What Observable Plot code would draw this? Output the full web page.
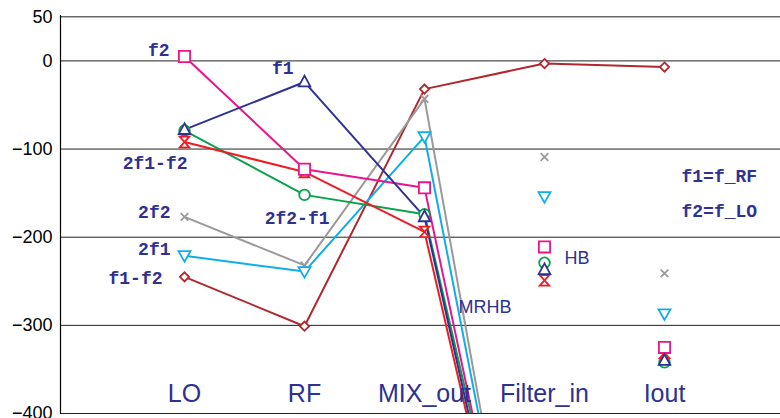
<!DOCTYPE html>
<html><head><meta charset="utf-8">
<script src="https://cdn.jsdelivr.net/npm/d3@7"></script>
<script src="https://cdn.jsdelivr.net/npm/@observablehq/plot@0.6"></script>
<style>body{margin:0;background:#fff;} #chart svg{display:block;}</style>
</head><body><div id="chart"></div>
<script>
// ---- data ----
const categories = ["LO", "RF", "MIX_out", "Filter_in", "Iout"];
const yTicks = [50, 0, -100, -200, -300, -400];

// MRHB line series (values at LO, RF, MIX_out, Filter_in[, Iout]); Filter_in values lie far off-scale
const mrhbF1mF2 = [-245, -301, -32, -3, -7];
const mrhb2F2   = [-177, -232, -43, -798];
const mrhb2F1   = [-221, -239, -86, -785];
const mrhb2F2mF1 = [-79, -152, -174, -760];
const mrhb2F1mF2 = [-92, -126, -194, -783];
const mrhbF2    = [5, -123, -144, -785];
const mrhbF1    = [-78, -24, -177, -785];

// HB point results at Filter_in and Iout
const hbF2     = [-211, -325];
const hbF1     = [-237, -340];
const hb2F1mF2 = [-249, -331];
const hb2F2mF1 = [-229, -342];
const hb2F2    = [-109, -241];
const hb2F1    = [-154, -287];
const hbCategories = ["Filter_in", "Iout"];

// ---- symbols ----
const R = (size) => Math.sqrt(size / Math.PI);
const symSquare = {draw(c, s){const r = R(s); c.rect(-r, -r, 2*r, 2*r);}};
const symTriUp = {draw(c, s){const r = R(s); c.moveTo(0, -r*1.1); c.lineTo(r, r*0.75); c.lineTo(-r, r*0.75); c.closePath();}};
const symTriDown = {draw(c, s){const r = R(s); c.moveTo(0, r*1.0); c.lineTo(r, -r*0.75); c.lineTo(-r, -r*0.75); c.closePath();}};
const symHourglass = {draw(c, s){const r = R(s); c.moveTo(-r*0.9, -r); c.lineTo(r*0.9, -r); c.lineTo(-r*0.9, r); c.lineTo(r*0.9, r); c.closePath();}};
const symCircle = {draw(c, s){const r = R(s); c.moveTo(r, 0); c.arc(0, 0, r, 0, 2*Math.PI);}};
const symTimes = {draw(c, s){const r = R(s); c.moveTo(-r, -r); c.lineTo(r, r); c.moveTo(r, -r); c.lineTo(-r, r);}};
const symDiamond = {draw(c, s){const r = R(s); c.moveTo(0, -r); c.lineTo(r, 0); c.lineTo(0, r); c.lineTo(-r, 0); c.closePath();}};

const series = [
  {name: "f1-f2",  mrhb: mrhbF1mF2,  hb: null,      color: "#b0282e", symbol: symDiamond,   r: 4.6},
  {name: "2f2",    mrhb: mrhb2F2,    hb: hb2F2,     color: "#9a9a9a", symbol: symTimes,     r: 3.8},
  {name: "2f1",    mrhb: mrhb2F1,    hb: hb2F1,     color: "#10aee8", symbol: symTriDown,   r: 6},
  {name: "2f2-f1", mrhb: mrhb2F2mF1, hb: hb2F2mF1,  color: "#0aa14e", symbol: symCircle,    r: 5.3},
  {name: "2f1-f2", mrhb: mrhb2F1mF2, hb: hb2F1mF2,  color: "#ee1d24", symbol: symHourglass, r: 5.3},
  {name: "f2",     mrhb: mrhbF2,     hb: hbF2,      color: "#ea148c", symbol: symSquare,    r: 5.6},
  {name: "f1",     mrhb: mrhbF1,     hb: hbF1,      color: "#2e3192", symbol: symTriUp,     r: 5.8}
];

const navy = "#2e3192";
const annotations = [
  {text: "f2",     cat: "LO", value: 12,   dx: -15, anchor: "end", mono: true},
  {text: "2f1-f2", cat: "LO", value: -116, dx: 3,   anchor: "end", mono: true},
  {text: "2f2",    cat: "LO", value: -172, dx: -14, anchor: "end", mono: true},
  {text: "2f1",    cat: "LO", value: -214, dx: -14, anchor: "end", mono: true},
  {text: "f1-f2",  cat: "LO", value: -247, dx: -22, anchor: "end", mono: true},
  {text: "f1",     cat: "RF", value: -8,   dx: -11, anchor: "end", mono: true},
  {text: "2f2-f1", cat: "RF", value: -178, dx: 25,  anchor: "end", mono: true},
  {text: "f1=f_RF", cat: "Iout", value: -131, dx: 17, anchor: "start", mono: true},
  {text: "f2=f_LO", cat: "Iout", value: -170, dx: 17, anchor: "start", mono: true},
  {text: "HB",     cat: "Filter_in", value: -224, dx: 20, anchor: "start", mono: false},
  {text: "MRHB",   cat: "MIX_out",   value: -280, dx: 34, anchor: "start", mono: false}
];
const categoryLabelValue = -378;

// ---- marks ----
const marks = [
  Plot.ruleY(yTicks, {stroke: "#222", strokeWidth: 1}),
  Plot.frame({anchor: "left", stroke: "#000", strokeWidth: 1.2}),
  Plot.axisY({ticks: yTicks, tickSize: 0, tickPadding: 8, fontSize: 18, label: null, tickFormat: d3.format("d")})
];

for (const s of series) {
  const rows = s.mrhb.map((v, i) => ({cat: categories[i], value: v}));
  marks.push(Plot.line(rows, {x: "cat", y: "value", stroke: s.color, strokeWidth: 2, clip: true}));
}
for (const s of series) {
  const rows = s.mrhb.map((v, i) => ({cat: categories[i], value: v})).filter(d => d.value > -400);
  const hbRows = s.hb ? s.hb.map((v, i) => ({cat: hbCategories[i], value: v})) : [];
  marks.push(Plot.dot(rows.concat(hbRows), {x: "cat", y: "value", symbol: s.symbol, r: s.r, stroke: s.color, strokeWidth: 1.8, fill: "white", fillOpacity: s.symbol === symTimes ? 0 : 1}));
}

for (const a of annotations) {
  marks.push(Plot.text([a], {
    x: "cat", y: "value", text: "text", dx: a.dx, textAnchor: a.anchor, fill: navy,
    fontFamily: a.mono ? "Liberation Mono" : "Liberation Sans",
    fontWeight: a.mono ? "bold" : "normal",
    fontSize: 18
  }));
}
marks.push(Plot.text(categories, {x: (d) => d, y: () => categoryLabelValue, text: (d) => d, fill: navy, fontSize: 25, fontFamily: "Liberation Sans"}));

const chart = Plot.plot({
  width: 780,
  height: 418,
  marginLeft: 60,
  marginRight: 0,
  marginTop: 15,
  marginBottom: 5,
  style: {fontFamily: "Liberation Sans", fontSize: "18px", color: "#000", background: "#fff"},
  x: {type: "point", domain: categories, range: [182, 665], padding: 0, axis: null},
  y: {domain: [-400, 51.5], axis: null},
  marks
});
document.getElementById("chart").appendChild(chart);
</script>
</body></html>
